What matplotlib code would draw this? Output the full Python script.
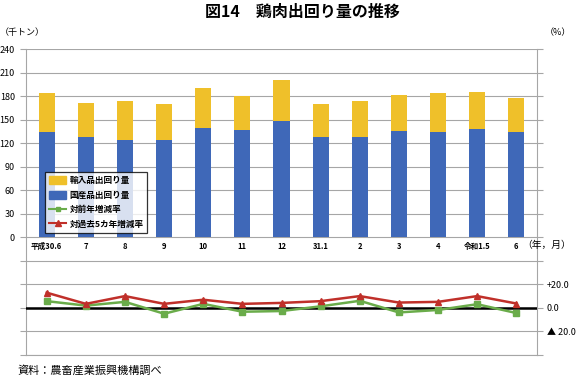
import numpy as np
import matplotlib
matplotlib.use("Agg")
from matplotlib import pyplot as plt
from matplotlib.patches import Patch
from matplotlib.lines import Line2D

plt.rcParams['font.family'] = ['Noto Sans CJK JP', 'DejaVu Sans']

# data
months = ["平成30.6", "7", "8", "9", "10", "11", "12", "31.1", "2", "3", "4", "令和1.5", "6"]
domestic = [134.4, 128.0, 123.7, 124.0, 139.1, 137.0, 148.5, 128.5, 127.6, 135.6, 134.0, 138.3, 134.0]
imported = [50.0, 43.5, 50.3, 46.3, 51.3, 43.5, 51.8, 41.4, 46.4, 45.8, 50.0, 47.0, 44.0]
yoy = [5.8, 2.0, 5.2, -4.9, 3.5, -3.2, -2.6, 1.4, 6.1, -3.8, -1.7, 3.2, -4.3]
vs5yr = [13.0, 3.5, 10.1, 3.5, 7.0, 3.5, 4.3, 5.8, 10.1, 4.6, 5.2, 10.1, 3.8]

c_imp = '#efc02a'
c_dom = '#3f68b8'
c_yoy = '#6aac4a'
c_5yr = '#c0302a'
c_grid = '#a6a6a6'

fig = plt.figure(figsize=(5.8, 3.79), dpi=100)
ax = fig.add_axes([26/580, 1 - 355/379, (537 - 26)/580, (355 - 49.3)/379])
x = np.arange(len(months))

ax.bar(x, domestic, width=0.41, color=c_dom, zorder=3)
ax.bar(x, imported, width=0.41, bottom=domestic, color=c_imp, zorder=3)

ax.set_xlim(-0.53, len(months) - 0.47)
ax.set_ylim(-150, 240)
ax.set_yticks(np.arange(-150, 241, 30))
ax.set_yticklabels([str(v) if v >= 0 else '' for v in range(-150, 241, 30)], fontsize=6.5)
ax.yaxis.grid(True, color=c_grid, lw=0.8, zorder=0)
ax.tick_params(axis='y', length=4, color=c_grid, pad=4)
ax.set_xticks([])
for s in ax.spines.values():
    s.set_color(c_grid)
    s.set_linewidth(0.8)
ax.spines['top'].set_visible(False)

for xi, lab in zip(x, months):
    ax.text(xi, -11, lab, ha='center', va='center', fontsize=5.5, fontweight='bold')

ax2 = ax.twinx()
ax2.set_ylim(-40, 220)
rt = np.arange(-40, 221, 20)
ax2.set_yticks(rt)
lab_map = {20: '+20.0', 0: '0.0', -20: '▲ 20.0'}
ax2.set_yticklabels([lab_map.get(int(v), '') for v in rt], fontsize=6.5)
ax2.tick_params(axis='y', length=4, color=c_grid, pad=3)
for s in ax2.spines.values():
    s.set_visible(False)
ax2.axhline(0, color='black', lw=1.8, zorder=2)
ax2.plot(x, yoy, color=c_yoy, lw=1.8, marker='s', ms=4.5, zorder=4)
ax2.plot(x, vs5yr, color=c_5yr, lw=1.8, marker='^', ms=5, zorder=5)

handles = [Patch(color=c_imp), Patch(color=c_dom),
           Line2D([], [], color=c_yoy, marker='s', ms=3.5, lw=1.5),
           Line2D([], [], color=c_5yr, marker='^', ms=4, lw=1.5)]
labels = ["輸入品出回り量", "国産品出回り量", "対前年増減率", "対過去5カ年増減率"]
leg = ax2.legend(handles, labels, loc='lower left', bbox_to_anchor=(41/580, 1 - 237/379),
                 bbox_transform=fig.transFigure, frameon=True, fancybox=False,
                 prop={'size': 6.2, 'weight': 'bold'},
                 handlelength=2.0, handleheight=1.0, borderpad=0.45, labelspacing=0.65,
                 handletextpad=0.35)
leg.get_frame().set_edgecolor('black')
leg.get_frame().set_linewidth(0.9)
leg.set_zorder(10)

fig.text(302/580, 1 - 12/379, "図14　鶏肉出回り量の推移", ha='center', va='center',
         fontsize=11.5, fontweight='bold')
fig.text(0/580, 1 - 33/379, "（千トン）", ha='left', va='center', fontsize=6.5)
fig.text(545/580, 1 - 33/379, "（%）", ha='left', va='center', fontsize=6.5)
fig.text(522/580, 1 - 245/379, "（年，月）", ha='left', va='center', fontsize=7)
fig.text(18/580, 1 - 370/379, "資料：農畜産業振興機構調べ", ha='left', va='center', fontsize=8)

fig.savefig("out.png", dpi=100)
